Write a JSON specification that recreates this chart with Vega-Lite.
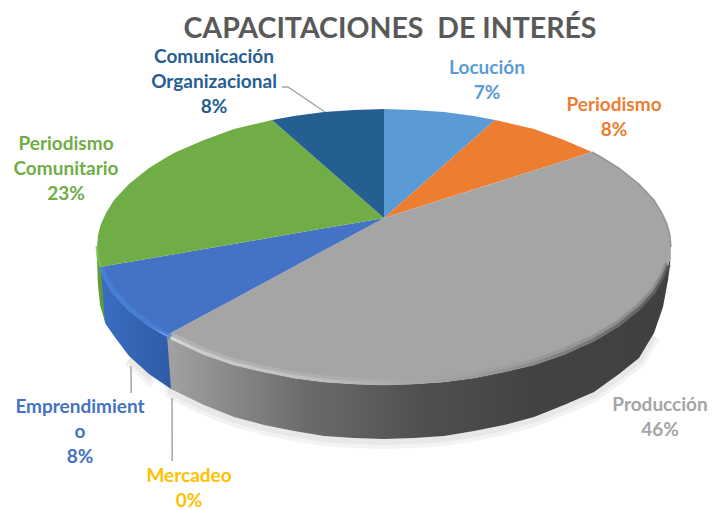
{
"$schema":"https://vega.github.io/schema/vega-lite/v6.json",
"width":713,"height":510,"padding":0,"autosize":"none",
"background":"white",
"view":{"stroke":null},
"datasets":{
"top":[
{"slice":"Locución","x":384,"y":109,"y2":218},{"slice":"Locución","x":414,"y":110,"y2":191.5},{"slice":"Locución","x":444,"y":112,"y2":165},{"slice":"Locución","x":474,"y":116,"y2":138.5},{"slice":"Locución","x":495,"y":120,"y2":120},
{"slice":"Periodismo","x":384,"y":218,"y2":218},{"slice":"Periodismo","x":495,"y":120,"y2":182.8},{"slice":"Periodismo","x":504,"y":122,"y2":180},{"slice":"Periodismo","x":534,"y":129,"y2":170.4},{"slice":"Periodismo","x":564,"y":140,"y2":161},{"slice":"Periodismo","x":592,"y":152,"y2":152},
{"slice":"Producción","x":167,"y":335,"y2":335},{"slice":"Producción","x":204,"y":315,"y2":354.5},{"slice":"Producción","x":234,"y":298.9,"y2":365},{"slice":"Producción","x":264,"y":282.7,"y2":372},{"slice":"Producción","x":294,"y":266.5,"y2":378},{"slice":"Producción","x":324,"y":250.3,"y2":382},{"slice":"Producción","x":354,"y":234.2,"y2":384},{"slice":"Producción","x":384,"y":218,"y2":385},{"slice":"Producción","x":414,"y":208.5,"y2":384},{"slice":"Producción","x":444,"y":199,"y2":382},{"slice":"Producción","x":474,"y":189.5,"y2":378},{"slice":"Producción","x":504,"y":180,"y2":372},{"slice":"Producción","x":534,"y":170.4,"y2":365},{"slice":"Producción","x":564,"y":161,"y2":354.5},{"slice":"Producción","x":592,"y":152,"y2":342},{"slice":"Producción","x":601,"y":157,"y2":337},{"slice":"Producción","x":619,"y":168,"y2":326},{"slice":"Producción","x":639,"y":184,"y2":310},{"slice":"Producción","x":654,"y":200,"y2":294},{"slice":"Producción","x":662,"y":213,"y2":281},{"slice":"Producción","x":667,"y":224,"y2":270},{"slice":"Producción","x":670,"y":235.5,"y2":258.5},{"slice":"Producción","x":671,"y":247,"y2":247},
{"slice":"Emprendimiento","x":100,"y":267,"y2":267},{"slice":"Emprendimiento","x":101,"y":266.8,"y2":270},{"slice":"Emprendimiento","x":106,"y":266,"y2":281},{"slice":"Emprendimiento","x":114,"y":264.6,"y2":294},{"slice":"Emprendimiento","x":129,"y":262,"y2":310},{"slice":"Emprendimiento","x":149,"y":258.5,"y2":326},{"slice":"Emprendimiento","x":167,"y":255.4,"y2":335},{"slice":"Emprendimiento","x":204,"y":249,"y2":315},{"slice":"Emprendimiento","x":234,"y":243.9,"y2":298.9},{"slice":"Emprendimiento","x":264,"y":238.7,"y2":282.7},{"slice":"Emprendimiento","x":294,"y":233.5,"y2":266.5},{"slice":"Emprendimiento","x":324,"y":228.3,"y2":250.3},{"slice":"Emprendimiento","x":354,"y":223.2,"y2":234.2},{"slice":"Emprendimiento","x":384,"y":218,"y2":218},
{"slice":"Periodismo Comunitario","x":97,"y":247,"y2":247},{"slice":"Periodismo Comunitario","x":98,"y":235.5,"y2":258.5},{"slice":"Periodismo Comunitario","x":100,"y":227,"y2":267},{"slice":"Periodismo Comunitario","x":101,"y":224,"y2":266.8},{"slice":"Periodismo Comunitario","x":106,"y":213,"y2":266},{"slice":"Periodismo Comunitario","x":114,"y":200,"y2":264.6},{"slice":"Periodismo Comunitario","x":129,"y":184,"y2":262},{"slice":"Periodismo Comunitario","x":149,"y":168,"y2":258.5},{"slice":"Periodismo Comunitario","x":167,"y":157,"y2":255.4},{"slice":"Periodismo Comunitario","x":176,"y":152,"y2":253.9},{"slice":"Periodismo Comunitario","x":204,"y":140,"y2":249},{"slice":"Periodismo Comunitario","x":234,"y":129,"y2":243.9},{"slice":"Periodismo Comunitario","x":264,"y":122,"y2":238.7},{"slice":"Periodismo Comunitario","x":272,"y":120,"y2":237.3},{"slice":"Periodismo Comunitario","x":294,"y":139.3,"y2":233.5},{"slice":"Periodismo Comunitario","x":324,"y":165.5,"y2":228.3},{"slice":"Periodismo Comunitario","x":354,"y":191.8,"y2":223.2},{"slice":"Periodismo Comunitario","x":384,"y":218,"y2":218},
{"slice":"Comunicación Organizacional","x":272,"y":120,"y2":120},{"slice":"Comunicación Organizacional","x":294,"y":116,"y2":139.3},{"slice":"Comunicación Organizacional","x":324,"y":112,"y2":165.5},{"slice":"Comunicación Organizacional","x":354,"y":110,"y2":191.8},{"slice":"Comunicación Organizacional","x":384,"y":109,"y2":218}
],
"side":[
{"slice":"Periodismo Comunitario","x":97,"y":247,"y2":262},{"slice":"Periodismo Comunitario","x":98,"y":258,"y2":285},{"slice":"Periodismo Comunitario","x":100,"y":267,"y2":305},{"slice":"Periodismo Comunitario","x":105,"y":279,"y2":322},
{"slice":"Emprendimiento","x":101,"y":270,"y2":270},{"slice":"Emprendimiento","x":105,"y":279,"y2":323},{"slice":"Emprendimiento","x":114,"y":294,"y2":336},{"slice":"Emprendimiento","x":129,"y":310,"y2":356},{"slice":"Emprendimiento","x":149,"y":326,"y2":374},{"slice":"Emprendimiento","x":171,"y":339,"y2":389},{"slice":"Emprendimiento","x":172,"y":339.5,"y2":389.5},
{"slice":"Producción","x":167,"y":335,"y2":335},{"slice":"Producción","x":171,"y":339,"y2":389},{"slice":"Producción","x":204,"y":354.5,"y2":405},{"slice":"Producción","x":234,"y":365,"y2":417},{"slice":"Producción","x":264,"y":372,"y2":425},{"slice":"Producción","x":294,"y":378,"y2":431},{"slice":"Producción","x":324,"y":382,"y2":436},{"slice":"Producción","x":354,"y":384,"y2":438},{"slice":"Producción","x":384,"y":385,"y2":439},{"slice":"Producción","x":414,"y":384,"y2":438},{"slice":"Producción","x":444,"y":382,"y2":436},{"slice":"Producción","x":474,"y":378,"y2":431},{"slice":"Producción","x":504,"y":372,"y2":425},{"slice":"Producción","x":534,"y":365,"y2":417},{"slice":"Producción","x":564,"y":354.5,"y2":405},{"slice":"Producción","x":594,"y":341,"y2":392},{"slice":"Producción","x":619,"y":326,"y2":374},{"slice":"Producción","x":639,"y":310,"y2":358},{"slice":"Producción","x":654,"y":294,"y2":333},{"slice":"Producción","x":663,"y":279,"y2":307},{"slice":"Producción","x":668,"y":267,"y2":280},{"slice":"Producción","x":670,"y":258.5,"y2":265},{"slice":"Producción","x":671,"y":247,"y2":250}
],
"leaders":[
{"leader":"Comunicación Organizacional","x":282,"y":87},{"leader":"Comunicación Organizacional","x":288,"y":87},{"leader":"Comunicación Organizacional","x":325,"y":112},
{"leader":"Emprendimiento","x":131,"y":366},{"leader":"Emprendimiento","x":131.2,"y":393},
{"leader":"Mercadeo","x":172,"y":398},{"leader":"Mercadeo","x":172.2,"y":461}
],
"labels":[
{"slice":"Locución","label":"Locución\n7%","share":7,"x":487,"y":68},
{"slice":"Periodismo","label":"Periodismo\n8%","share":8,"x":614,"y":105},
{"slice":"Producción","label":"Producción\n46%","share":46,"x":660,"y":405},
{"slice":"Mercadeo","label":"Mercadeo\n0%","share":0,"x":189,"y":476},
{"slice":"Emprendimiento","label":"Emprendimient\no\n8%","share":8,"x":80,"y":407},
{"slice":"Periodismo Comunitario","label":"Periodismo\nComunitario\n23%","share":23,"x":66,"y":144},
{"slice":"Comunicación Organizacional","label":"Comunicación\nOrganizacional\n8%","share":8,"x":214,"y":57}
],
"heading":[{"label":"CAPACITACIONES \u00a0DE INTERÉS","x":390,"y":29}]
},
"encoding":{
"x":{"field":"x","type":"quantitative","scale":{"domain":[0,713],"nice":false,"zero":false},"axis":null},
"y":{"field":"y","type":"quantitative","scale":{"domain":[510,0],"nice":false,"zero":false},"axis":null}
},
"layer":[
{"data":{"name":"side"},"transform":[{"filter":"datum.x>125 && datum.x<655"}],"mark":{"type":"line","stroke":"#f3f3f3","strokeWidth":12,"yOffset":4},"encoding":{"y":{"field":"y2","type":"quantitative"},"detail":{"value":"s"}}},
{"data":{"name":"side"},"transform":[{"filter":"datum.x>125 && datum.x<655"}],"mark":{"type":"line","stroke":"#e8e8e8","strokeWidth":6,"yOffset":3},"encoding":{"y":{"field":"y2","type":"quantitative"}}},
{"data":{"name":"side"},"transform":[{"filter":"datum.slice==='Periodismo Comunitario'"}],"mark":{"type":"area","color":"#5f9c3a"},"encoding":{"y2":{"field":"y2"}}},
{"data":{"name":"side"},"transform":[{"filter":"datum.slice==='Emprendimiento'"}],"mark":{"type":"area","color":{"gradient":"linear","x1":0,"x2":1,"y1":0,"y2":0,"stops":[{"offset":0,"color":"#3a6cc0"},{"offset":1,"color":"#2f5ca6"}]}},"encoding":{"y2":{"field":"y2"}}},
{"data":{"name":"side"},"transform":[{"filter":"datum.slice==='Producción'"}],"mark":{"type":"area","color":{"gradient":"linear","x1":0,"x2":1,"y1":0,"y2":0,"stops":[{"offset":0,"color":"#a2a2a2"},{"offset":0.12,"color":"#8a8a8a"},{"offset":0.27,"color":"#6c6c6c"},{"offset":0.5,"color":"#505050"},{"offset":0.72,"color":"#434343"},{"offset":1,"color":"#404040"}]}},"encoding":{"y2":{"field":"y2"}}},
{"data":{"name":"top"},"mark":{"type":"area"},"encoding":{"y2":{"field":"y2"},"color":{"field":"slice","type":"nominal","legend":null,"scale":{"domain":["Locución","Periodismo","Producción","Emprendimiento","Mercadeo","Periodismo Comunitario","Comunicación Organizacional"],"range":["#5B9BD5","#ED7D31","#A5A5A5","#4472C4","#FFC000","#70AD47","#255E91"]}}}},
{"data":{"name":"side"},"transform":[{"filter":"datum.slice==='Producción' && datum.x>=171 && datum.x<=668"}],"mark":{"type":"line","strokeWidth":7,"yOffset":-3,"opacity":0.3,"stroke":{"gradient":"linear","x1":0,"x2":1,"y1":0,"y2":0,"stops":[{"offset":0,"color":"#d8d8d8"},{"offset":0.3,"color":"#c4c4c4"},{"offset":0.5,"color":"#a5a5a5"},{"offset":0.68,"color":"#8f8f8f"},{"offset":0.85,"color":"#6a6a6a"},{"offset":1,"color":"#4c4c4c"}]}}},
{"data":{"name":"side"},"transform":[{"filter":"datum.slice==='Producción' && datum.x>=171 && datum.x<=668"}],"mark":{"type":"line","strokeWidth":3,"yOffset":-1.5,"opacity":0.75,"stroke":{"gradient":"linear","x1":0,"x2":1,"y1":0,"y2":0,"stops":[{"offset":0,"color":"#d8d8d8"},{"offset":0.3,"color":"#c4c4c4"},{"offset":0.5,"color":"#a5a5a5"},{"offset":0.68,"color":"#8f8f8f"},{"offset":0.85,"color":"#6a6a6a"},{"offset":1,"color":"#4c4c4c"}]}}},
{"data":{"name":"side"},"transform":[{"filter":"datum.slice==='Emprendimiento' && datum.x<=171"}],"mark":{"type":"line","strokeWidth":5,"yOffset":-2,"opacity":0.7,"stroke":"#4a82dc"}},
{"data":{"name":"side"},"transform":[{"filter":"datum.slice==='Periodismo Comunitario' && datum.x<=100"}],"mark":{"type":"line","strokeWidth":3,"yOffset":-1,"opacity":0.8,"stroke":"#7cc04f"}},
{"data":{"name":"top"},"transform":[{"filter":"datum.slice==='Producción' && datum.x>=592"}],"mark":{"type":"line","strokeWidth":1.5,"stroke":"#808080","opacity":0.7}},
{"data":{"name":"leaders"},"mark":{"type":"line","stroke":"#a6a6a6","strokeWidth":1.5},"encoding":{"detail":{"field":"leader"}}},
{"data":{"name":"labels"},"mark":{"type":"text","font":"Lato","fontWeight":"bold","fontSize":19,"lineBreak":"\n","lineHeight":25,"align":"center","baseline":"middle"},"encoding":{"text":{"field":"label"},"color":{"field":"slice","type":"nominal","legend":null}}},
{"data":{"name":"heading"},"mark":{"type":"text","font":"Lato","fontWeight":"bold","fontSize":28.5,"align":"center","baseline":"middle","color":"#595959"},"encoding":{"text":{"field":"label"}}}
]
}
